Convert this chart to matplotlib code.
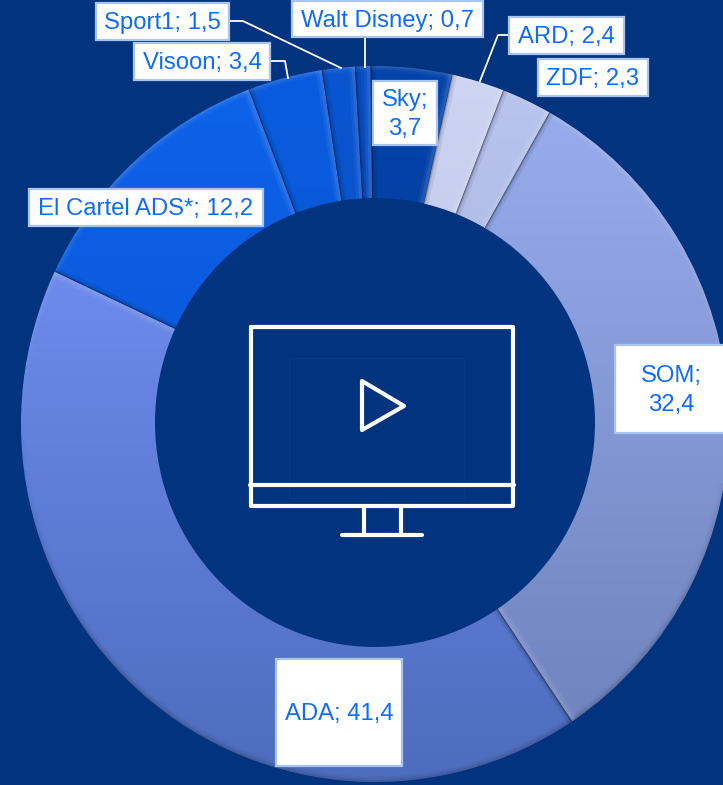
import numpy as np
import matplotlib
matplotlib.use('Agg')
import matplotlib.pyplot as plt
from matplotlib.colors import to_rgb
from matplotlib.patches import Ellipse, Polygon, Rectangle

plt.rcParams['font.family'] = ['Liberation Sans', 'DejaVu Sans']

# Datos del anillo, en sentido horario desde ARD
names = ['ARD', 'ZDF', 'SOM', 'ADA', 'El Cartel ADS*', 'Visoon', 'Sport1', 'Walt Disney', 'Sky']
values = [2.4, 2.3, 32.4, 41.4, 12.2, 3.4, 1.5, 0.7, 3.7]
top_colors = ['#CDD4F4', '#B9C4EE', '#98ABEC', '#6C8BEC', '#0E62E8', '#0A5CDE', '#0A55D0', '#0A50C6', '#0444AC']
bottom_colors = ['#BEC6E8', '#A8B3E0', '#7084BE', '#4E6CBC', '#0A58DC', '#0858D8', '#0850C8', '#0848BC', '#033C9A']

BG = '#02337F'
W, H = 723, 785
CX, CY = 375, 424
RX, RY = 354, 358

fig = plt.figure(figsize=(W / 100, H / 100), dpi=100, facecolor=BG)

# El anillo va en sus propios ejes, un poco mas alto que ancho como en el original
ax = fig.add_axes([(CX - RX) / W, 1 - (CY + RY) / H, 2 * RX / W, 2 * RY / H])
wedges, _ = ax.pie(values, startangle=77.4, counterclock=False, radius=1,
                   colors=top_colors, wedgeprops={'linewidth': 0})

for w, c1, c2 in zip(wedges, top_colors, bottom_colors):
    w.set_visible(False)
    ys = w.get_path().vertices[:, 1]
    xs = w.get_path().vertices[:, 0]
    t = np.linspace(0, 1, 128)[:, None]
    grad = (1 - t) * np.array(to_rgb(c1)) + t * np.array(to_rgb(c2))
    img = ax.imshow(grad[:, None, :], extent=[xs.min(), xs.max(), ys.min(), ys.max()],
                    aspect='auto', zorder=1, interpolation='bilinear')
    img.set_clip_path(w.get_path(), ax.transData)

    # Bisel: borde exterior claro arriba y oscuro abajo
    ang = np.radians(np.linspace(w.theta1, w.theta2, 60))
    for i in range(len(ang) - 1):
        s = np.sin(ang[i])
        col = 'white' if s > 0 else 'black'
        for lw, a in [(8, 0.03), (5, 0.05), (2.5, 0.07)]:
            line, = ax.plot(np.cos(ang[i:i + 2]), np.sin(ang[i:i + 2]), color=col,
                            lw=lw, alpha=a * min(1, abs(s) * 1.6), zorder=2,
                            solid_capstyle='butt')
            line.set_clip_path(w.get_path(), ax.transData)

    # Bisel de los lados: claro en un lado, oscuro en el otro
    for theta, col, pairs in [(w.theta1, 'white', [(9, 0.05), (5, 0.08)]),
                              (w.theta2, 'black', [(7, 0.07), (3, 0.14), (1.2, 0.28)])]:
        a = np.radians(theta)
        for lw, alpha in pairs:
            line, = ax.plot([0, np.cos(a)], [0, np.sin(a)], color=col, lw=lw, alpha=alpha, zorder=3)
            line.set_clip_path(w.get_path(), ax.transData)

ax.set_aspect('auto')
ax.set_xlim(-1, 1)
ax.set_ylim(-1, 1)

# Ejes superpuestos en pixeles para el hueco, el icono y las etiquetas
top = fig.add_axes([0, 0, 1, 1])
top.set_xlim(0, W)
top.set_ylim(H, 0)
top.axis('off')
top.patch.set_alpha(0)

top.add_patch(Ellipse((375, 422.5), 440, 449, facecolor=BG, edgecolor='none', zorder=1))

# Icono de la pantalla
top.add_patch(Rectangle((289, 358), 175, 140, fill=False, edgecolor='#053A88', lw=1, zorder=2))
icon = {'color': 'white', 'lw': 3, 'zorder': 3, 'solid_capstyle': 'round', 'solid_joinstyle': 'round'}
top.plot([251, 513, 513, 251, 251], [327, 327, 506, 506, 327], **icon)
top.plot([250, 514], [485, 485], **icon)
top.plot([364, 364], [506, 535], **icon)
top.plot([401, 401], [506, 535], **icon)
top.plot([342, 422], [535, 535], **icon)
top.add_patch(Polygon([(362, 381), (362, 430), (404, 406)], closed=True, fill=False,
                      edgecolor='white', lw=3, joinstyle='round', zorder=3))

# Lineas guia
leader = {'color': 'white', 'lw': 1.3, 'zorder': 4}
top.plot([230, 243, 341], [21, 21, 68], **leader)
top.plot([365, 365], [37, 67], **leader)
top.plot([270, 285, 288], [61, 61, 78], **leader)
top.plot([508, 498, 480], [35, 35, 81], **leader)

# Cajas de etiqueta: izquierda, arriba, derecha, abajo, en pixeles
boxes = {
    'ARD': (509, 17, 624, 54),
    'ZDF': (538, 59, 648, 96),
    'SOM': (615, 345, 726, 433),
    'ADA': (276, 659, 402, 766),
    'El Cartel ADS*': (29, 189, 263, 226),
    'Visoon': (134, 43, 270, 80),
    'Sport1': (96, 3, 229, 40),
    'Walt Disney': (292, 1, 483, 37),
    'Sky': (373, 81, 437, 145),
}
wrapped = ['SOM', 'Sky']

for name, val in zip(names, values):
    x0, y0, x1, y1 = boxes[name]
    top.add_patch(Rectangle((x0, y0), x1 - x0, y1 - y0, facecolor='white',
                            edgecolor='#A9C4F2', lw=1.6, zorder=5))
    sep = '\n' if name in wrapped else ' '
    label = f"{name};{sep}{str(val).replace('.', ',')}"
    xc = 671 if name == 'SOM' else (x0 + x1) / 2
    top.text(xc, (y0 + y1) / 2 + 1.5, label, ha='center', va='center', color='#0F6BFA',
             fontsize=17.2, linespacing=1.38, zorder=6)

fig.savefig('out.png', dpi=100, facecolor=BG)
